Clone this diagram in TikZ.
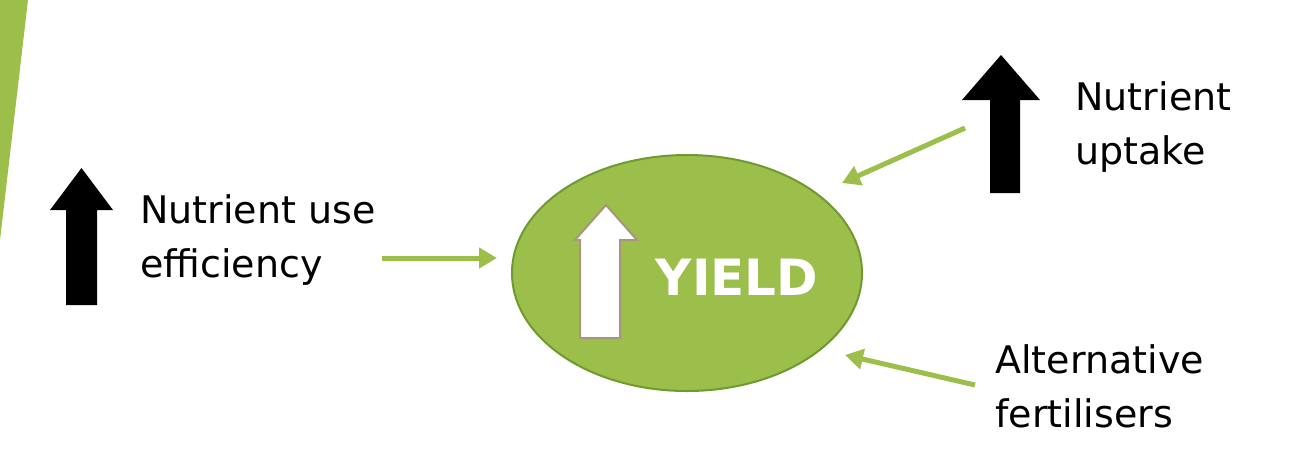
\documentclass[tikz,border=0pt]{standalone}
\usepackage{fontspec}
\setmainfont{DejaVu Sans}
\usetikzlibrary{arrows.meta,shapes.geometric}
\definecolor{lg}{HTML}{9BBF4A}
\definecolor{dg}{HTML}{6F9A30}
\begin{document}
\begin{tikzpicture}[x=0.5pt,y=-0.5pt,
  garrow/.style={draw=lg,line width=2.5pt,-{Triangle[length=9pt,width=10pt]}},
  lbl/.style={anchor=west,align=left,font=\fontsize{19}{27}\selectfont,inner sep=0pt}]
\useasboundingbox (0,0) rectangle (1292,468);
\fill[lg] (0,0) -- (28,0) -- (0,240) -- cycle;
\node[ellipse,draw=dg,line width=1pt,fill=lg,minimum width=175pt,minimum height=118pt] (yield) at (687,273) {};
\node[font=\bfseries\fontsize{25}{30}\selectfont,text=white] (yt) at (737,277) {YIELD};
\draw[draw=black!40!brown!60,fill=white,line width=1pt] (580,338) -- (580,240) -- (575,240) -- (606,205) -- (637,240) -- (620,240) -- (620,338) -- cycle;
\fill (66,305) -- (66,210) -- (50,210) -- (81.5,168) -- (113,210) -- (97,210) -- (97,305) -- cycle;
\fill (990,193) -- (990,100) -- (962,100) -- (1001,55) -- (1040,100) -- (1020,100) -- (1020,193) -- cycle;
\node[lbl] (nue) at (140,240) {Nutrient use\\efficiency};
\node[lbl] (nu) at (1075,127) {Nutrient\\uptake};
\node[lbl] (af) at (995,386) {Alternative\\fertilisers};
\coordinate (a1) at (497,258); \coordinate (a2) at (842,183); \coordinate (a3) at (845,355);
\draw[garrow] (382,258) -- (a1);
\draw[garrow] (965,128) -- (a2);
\draw[garrow] (975,385) -- (a3);
\end{tikzpicture}
\end{document}
